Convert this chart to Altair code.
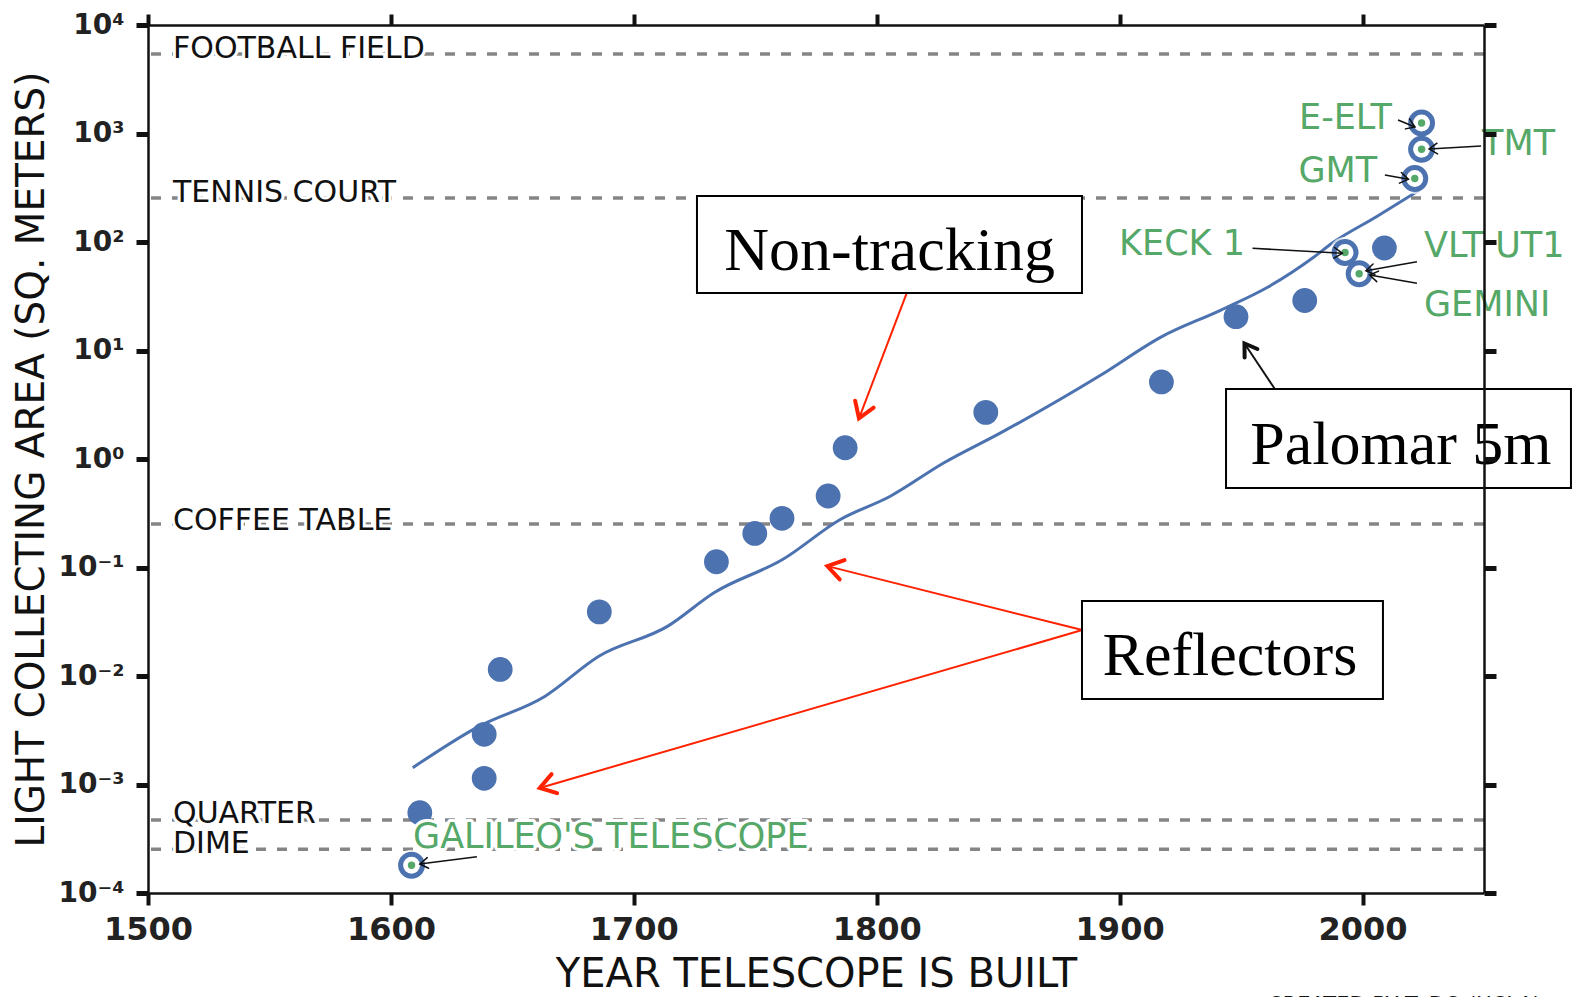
import math
import altair as alt
import pandas as pd

FONT = "DejaVu Sans"
SERIF = "Liberation Serif"
BLUE = "#4c72b0"
GREEN = "#55a868"
RED = "#ff2200"
INK = "#111111"

W, H = 1336, 868
X0, X1 = 1500, 2050
LMIN, LMAX = -4, 4

# ---------------- data ----------------
dot_year = [1611.9, 1638.4, 1638.4, 1645.0, 1685.8, 1734.0, 1749.8, 1761.0,
            1780.0, 1787.0, 1844.9, 1917.2, 1947.9, 1976.2, 2009.0]
dot_area = [5.5e-4, 2.9e-3, 1.14e-3, 1.15e-2, 0.039, 0.113, 0.206, 0.284,
            0.456, 1.27, 2.69, 5.13, 20.5, 28.9, 88.0]

hl_name = ["GALILEO", "KECK 1", "GEMINI", "GMT", "TMT", "E-ELT"]
hl_year = [1608.5, 1992.8, 1998.6, 2021.5, 2024.3, 2024.3]
hl_area = [1.8e-4, 80.0, 51.0, 385.0, 716.0, 1250.0]

fit_year = [1609.0, 1635.1, 1663.5, 1685.6, 1714.0, 1733.0, 1761.4, 1785.0,
            1805.6, 1827.7, 1851.0, 1892.3, 1917.0, 1941.7, 1961.1, 1980.0,
            1987.4, 2005.7, 2023.5]
fit_area = [1.43e-3, 3.33e-3, 6.52e-3, 1.52e-2, 2.88e-2, 5.85e-2, 0.119, 0.277,
            0.454, 0.923, 1.74, 5.94, 13.3, 23.6, 38.5, 72.8,
            97.3, 171.0, 302.0]

ref_name = ["FOOTBALL FIELD", "TENNIS COURT", "COFFEE TABLE", "QUARTER", "DIME"]
ref_area = [5400.0, 255.0, 0.252, 4.71e-4, 2.53e-4]
ref_label_area = [4960.0, 234.0, 0.222, 4.42e-4, 2.34e-4]
ref_label_year = [1510.3, 1510.3, 1510.3, 1510.3, 1510.3]

lab_text = ["GALILEO'S TELESCOPE", "KECK 1", "VLT UT1", "GEMINI", "GMT", "TMT", "E-ELT"]
lab_year = [1609.1, 1951.6, 2025.3, 2025.3, 2006.0, 2049.2, 2012.1]
lab_area = [3.28e-4, 96.0, 91.8, 26.2, 448.0, 800.0, 1390.0]
lab_align = ["left", "right", "left", "left", "right", "left", "right"]

box_text = ["Non-tracking", "Palomar 5m", "Reflectors"]
box_x1 = [1726.0, 1943.8, 1884.5]
box_x2 = [1884.5, 2085.8, 2008.4]
box_y1 = [265.5, 4.42, 0.0491]
box_y2 = [33.9, 0.541, 6.14e-3]
box_tx = [1805.3, 2015.8, 1945.4]
box_ty = [55.2, 0.90, 0.0102]

arr_kind = ["red", "red", "red", "big", "small", "small", "small", "small",
            "small", "small", "small"]
arr_x1 = [1812.3, 1884.6, 1884.6, 1963.7, 1635.4, 2014.6, 2048.8, 2009.2,
          1954.7, 2022.4, 2022.4]
arr_y1 = [33.6, 0.0265, 0.0265, 4.49, 2.16e-4, 1330.0, 767.0, 415.0,
          87.5, 65.8, 41.6]
arr_x2 = [1792.7, 1779.7, 1661.3, 1951.4, 1611.9, 2021.6, 2027.4, 2018.9,
          1991.7, 2001.4, 2002.9]
arr_y2 = [2.37, 0.103, 9.3e-4, 11.6, 1.85e-4, 1148.0, 719.0, 378.0,
          78.7, 54.3, 49.7]

decades = [1e-4, 1e-3, 1e-2, 1e-1, 1, 10, 100, 1000, 10000]
year_ticks = [1500, 1600, 1700, 1800, 1900, 2000]

# ---------------- tables ----------------
dots = pd.DataFrame({"year": dot_year, "area": dot_area})
hl = pd.DataFrame({"name": hl_name, "year": hl_year, "area": hl_area})
fit = pd.DataFrame({"year": fit_year, "area": fit_area})
refs = pd.DataFrame({"name": ref_name, "area": ref_area,
                     "year": ref_label_year, "larea": ref_label_area})
labs = pd.DataFrame({"text": lab_text, "year": lab_year, "area": lab_area,
                     "align": lab_align})
boxes = pd.DataFrame({"text": box_text, "x1": box_x1, "x2": box_x2,
                      "y1": box_y1, "y2": box_y2, "tx": box_tx, "ty": box_ty})


def px(yr):
    return (yr - X0) / (X1 - X0) * W


def py(a):
    return (LMAX - math.log10(a)) / (LMAX - LMIN) * H


angles = []
for a, b, c, d in zip(arr_x1, arr_y1, arr_x2, arr_y2):
    dx = px(c) - px(a)
    dy = py(d) - py(b)
    ang = math.degrees(math.atan2(dx, -dy)) % 360
    angles.append(ang)

arrows = pd.DataFrame({"kind": arr_kind, "x1": arr_x1, "y1": arr_y1,
                       "x2": arr_x2, "y2": arr_y2, "angle": angles})

credit = pd.DataFrame({"text": ["CREATED BY T. DO (UCLA)"], "year": [1961.1],
                       "area": [8.0e-6]})

xs = alt.Scale(domain=[X0, X1], nice=False, zero=False)
ys = alt.Scale(type="log", domain=[1e-4, 1e4], nice=False)

CHEVRON = "M -0.55 0.84 L 0 0 L 0.55 0.84"

sup_expr = ("'10' + ['\u207b\u2074','\u207b\u00b3','\u207b\u00b2','\u207b\u00b9','\u2070',"
            "'\u00b9','\u00b2','\u00b3','\u2074'][round(log(datum.value)/LN10)+4]")

ax_bottom = alt.Axis(orient="bottom", values=year_ticks, format="d",
                     labelFont=FONT, labelFontSize=32, labelFontWeight="bold",
                     labelColor="#222222", labelFlush=False,
                     labelPadding=9, tickSize=12, tickWidth=4, tickColor=INK,
                     domainColor=INK, domainWidth=2.5, grid=False,
                     title="YEAR TELESCOPE IS BUILT", titleFont=FONT,
                     titleFontSize=40, titleFontWeight="normal", titleColor=INK,
                     titleX=668, titleY=81, titleAlign="center",
                     titleBaseline="middle", zindex=1)
ax_left = alt.Axis(orient="left", values=decades, labelExpr=sup_expr,
                   labelFont=FONT, labelFontSize=28, labelFontWeight="bold",
                   labelColor="#222222",
                   labelPadding=12, tickSize=12, tickWidth=5, tickColor=INK,
                   domainColor=INK, domainWidth=2.5, grid=False,
                   title="LIGHT COLLECTING AREA (SQ. METERS)", titleFont=FONT,
                   titleFontSize=39, titleFontWeight="normal", titleColor=INK,
                   titleX=-117, titleY=434, titleAngle=270, titleAlign="center",
                   titleBaseline="middle", zindex=1)
ax_top = alt.Axis(orient="top", values=year_ticks, labels=False, tickSize=11,
                  tickWidth=4, tickColor=INK, domainColor=INK, domainWidth=2.5,
                  grid=False, title=None, zindex=1)
ax_right = alt.Axis(orient="right", values=decades, labels=False, tickSize=12,
                    tickWidth=5, tickColor=INK, domainColor=INK, domainWidth=2.5,
                    grid=False, title=None, zindex=1)


def X(field="year", axis=None):
    return alt.X(f"{field}:Q", scale=xs, axis=axis)


def Y(field="area", axis=None):
    return alt.Y(f"{field}:Q", scale=ys, axis=axis)


# reference dashed lines
ref_rules = alt.Chart(refs).mark_rule(color="#858585", strokeWidth=3.5,
                                      strokeDash=[10, 11]).encode(y=Y())
ref_halo = alt.Chart(refs).mark_text(font=FONT, fontSize=30, align="left",
                                     baseline="alphabetic", fill="white",
                                     stroke="white", strokeWidth=6,
                                     strokeJoin="round").encode(
    x=X(), y=Y("larea"), text="name:N")
ref_text = alt.Chart(refs).mark_text(font=FONT, fontSize=30, align="left",
                                     baseline="alphabetic", color=INK).encode(
    x=X(), y=Y("larea"), text="name:N")

fit_line = alt.Chart(fit).mark_line(color=BLUE, strokeWidth=3,
                                    interpolate="monotone").encode(
    x=X(axis=ax_top), y=Y(axis=ax_right))

dot_layer = alt.Chart(dots).mark_circle(color=BLUE, size=616, opacity=1).encode(
    x=X(axis=ax_bottom), y=Y(axis=ax_left))

ring_halo = alt.Chart(hl).mark_point(shape="circle", filled=False, stroke="white",
                                     strokeWidth=9, size=480).encode(x=X(), y=Y())
rings = alt.Chart(hl).mark_point(shape="circle", filled=False, color=BLUE,
                                 strokeWidth=5, size=480, opacity=1).encode(
    x=X(), y=Y())
centers = alt.Chart(hl).mark_circle(color=GREEN, size=55, opacity=1).encode(
    x=X(), y=Y())

styles = {
    "red": dict(color=RED, line=2, head=4, size=1300),
    "big": dict(color=INK, line=2, head=4, size=780),
    "small": dict(color=INK, line=1.5, head=1.5, size=380),
}
arrow_layers = []
for kind, st in styles.items():
    sub = alt.Chart(arrows).transform_filter(alt.datum.kind == kind)
    arrow_layers.append(sub.mark_rule(color=st["color"], strokeWidth=st["line"]).encode(
        x=X("x1"), y=Y("y1"), x2="x2:Q", y2="y2:Q"))
    arrow_layers.append(sub.mark_point(shape=CHEVRON, filled=False,
                                       color=st["color"], strokeWidth=st["head"],
                                       size=st["size"], opacity=1,
                                       strokeCap="round", strokeJoin="miter").encode(
        x=X("x2"), y=Y("y2"), angle=alt.Angle("angle:Q", scale=None)))

box_rects = alt.Chart(boxes).mark_rect(fill="white", stroke="black",
                                       strokeWidth=2).encode(
    x=X("x1"), x2="x2:Q", y=Y("y1"), y2="y2:Q")
box_texts = alt.Chart(boxes).mark_text(font=SERIF, fontSize=62, align="center",
                                       baseline="alphabetic", color="black").encode(
    x=X("tx"), y=Y("ty"), text="text:N")

lab_layers = []
for al in ["left", "right"]:
    sub = alt.Chart(labs).transform_filter(alt.datum.align == al)
    lab_layers.append(sub.mark_text(font=FONT, fontSize=35, align=al,
                                    baseline="middle", fill="white", stroke="white",
                                    strokeWidth=6, strokeJoin="round").encode(
        x=X(), y=Y(), text="text:N"))
    lab_layers.append(sub.mark_text(font=FONT, fontSize=35, align=al,
                                    baseline="middle", color=GREEN).encode(
        x=X(), y=Y(), text="text:N"))

credit_text = alt.Chart(credit).mark_text(font=FONT, fontSize=21, align="left",
                                          baseline="alphabetic", color=INK).encode(
    x=X(), y=Y(), text="text:N")

chart = alt.layer(
    ref_rules, ref_halo, ref_text, fit_line, dot_layer, ring_halo, rings, centers,
    *arrow_layers, box_rects, box_texts, *lab_layers, credit_text
).resolve_axis(x="independent", y="independent").properties(
    width=W, height=H,
    padding={"left": 140, "top": 17, "right": 89, "bottom": 104},
    autosize=alt.AutoSizeParams(type="none"),
    background="white",
).configure_view(stroke=None)

chart.save("out.html", embed_options={"renderer": "svg", "actions": False})
